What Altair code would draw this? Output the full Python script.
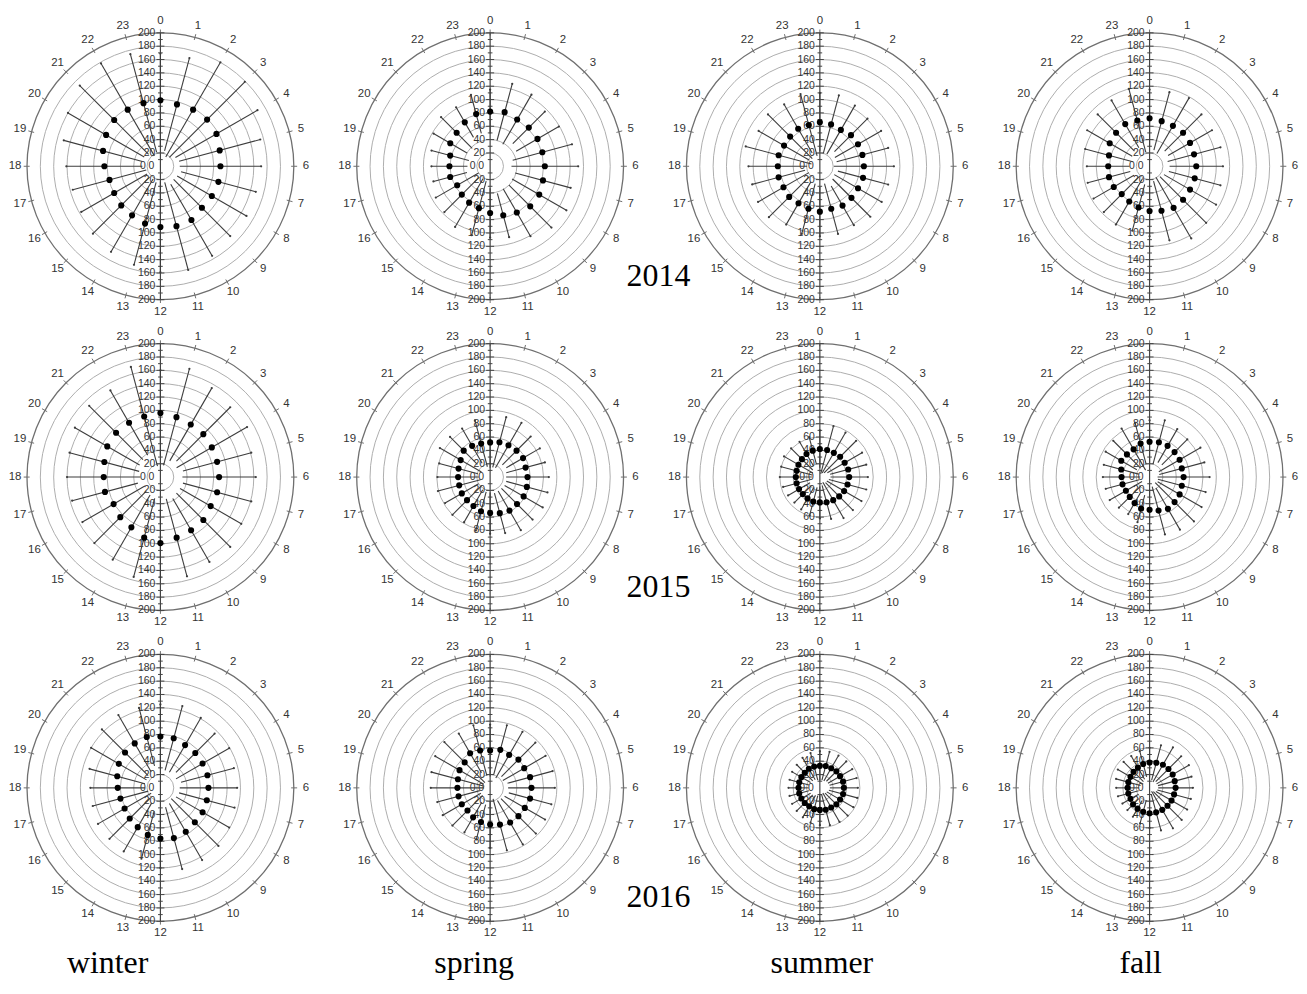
import altair as alt
import pandas as pd

# ---------------- data ----------------
years = ["2014", "2015", "2016"]
seasons = ["winter", "spring", "summer", "fall"]
hours = list(range(24))
ring_values = [20, 40, 60, 80, 100, 120, 140, 160, 180]
outer_value = [200]
axis_major = [20, 40, 60, 80, 100, 120, 140, 160, 180, 200]
axis_minor = [10, 30, 50, 70, 90, 110, 130, 150, 170, 190]

mean_2014_winter = [99, 96, 98, 99, 97, 92, 90, 90, 89, 88, 93, 93, 91, 89, 85, 83, 80, 79, 84, 89, 94, 98, 98, 98]
sd_2014_winter = [70, 72, 82, 80, 71, 63, 61, 58, 60, 60, 62, 68, 68, 64, 63, 60, 57, 57, 57, 61, 66, 73, 80, 76]
mean_2014_spring = [82, 84, 81, 82, 82, 81, 82, 82, 85, 85, 80, 76, 70, 65, 63, 60, 57, 62, 61, 62, 69, 71, 76, 81]
sd_2014_spring = [33, 44, 43, 34, 37, 46, 50, 43, 47, 45, 41, 34, 37, 42, 42, 37, 37, 26, 27, 29, 29, 33, 26, 30]
mean_2014_summer = [66, 65, 63, 66, 66, 66, 66, 67, 66, 67, 68, 66, 68, 66, 64, 65, 63, 64, 63, 64, 62, 63, 65, 64]
sd_2014_summer = [44, 45, 42, 35, 40, 40, 45, 39, 41, 40, 34, 39, 37, 39, 37, 43, 44, 41, 44, 51, 44, 47, 42, 48]
mean_2014_fall = [72, 70, 70, 71, 70, 69, 70, 70, 70, 71, 72, 69, 67, 64, 61, 59, 62, 63, 62, 63, 69, 71, 73, 71]
sd_2014_fall = [43, 45, 48, 39, 38, 41, 40, 40, 45, 49, 53, 46, 38, 36, 40, 38, 35, 33, 32, 37, 39, 39, 41, 49]

mean_2015_winter = [96, 93, 91, 91, 89, 88, 88, 88, 87, 91, 92, 94, 99, 94, 87, 85, 81, 86, 85, 87, 92, 94, 94, 94]
sd_2015_winter = [64, 75, 63, 57, 61, 53, 55, 53, 53, 57, 55, 60, 51, 61, 56, 55, 54, 51, 55, 54, 56, 57, 56, 77]
mean_2015_spring = [52, 54, 55, 56, 57, 55, 56, 57, 58, 57, 58, 56, 54, 53, 50, 49, 49, 48, 48, 49, 51, 56, 54, 52]
sd_2015_spring = [38, 39, 39, 30, 29, 30, 32, 32, 33, 33, 34, 31, 31, 30, 28, 31, 29, 33, 31, 30, 36, 29, 30, 36]
mean_2015_summer = [42, 42, 42, 43, 43, 44, 44, 43, 42, 41, 40, 39, 38, 38, 37, 36, 36, 36, 36, 36, 37, 38, 40, 41]
sd_2015_summer = [28, 37, 35, 34, 30, 28, 28, 29, 30, 29, 31, 26, 24, 22, 19, 18, 19, 21, 24, 24, 25, 23, 21, 21]
mean_2015_fall = [53, 54, 54, 53, 52, 50, 51, 50, 52, 53, 55, 52, 49, 49, 45, 42, 41, 42, 42, 44, 49, 48, 48, 52]
sd_2015_fall = [32, 34, 29, 27, 36, 35, 39, 37, 38, 41, 36, 37, 31, 21, 19, 23, 28, 26, 28, 27, 27, 29, 36, 32]

mean_2016_winter = [77, 77, 74, 74, 73, 73, 72, 72, 73, 73, 76, 78, 76, 73, 68, 65, 62, 62, 64, 67, 72, 75, 77, 79]
sd_2016_winter = [48, 50, 47, 41, 46, 41, 43, 43, 46, 50, 49, 48, 44, 37, 42, 43, 46, 43, 41, 43, 48, 49, 49, 45]
mean_2016_spring = [56, 59, 57, 60, 59, 62, 62, 62, 60, 60, 60, 57, 55, 53, 51, 48, 49, 49, 49, 50, 53, 54, 60, 58]
sd_2016_spring = [39, 38, 40, 36, 37, 35, 35, 33, 35, 37, 38, 40, 35, 27, 26, 32, 33, 33, 40, 41, 42, 43, 34, 39]
mean_2016_summer = [33, 34, 34, 35, 35, 36, 36, 36, 35, 35, 34, 34, 33, 33, 32, 32, 32, 32, 32, 32, 32, 32, 33, 33]
sd_2016_summer = [22, 22, 22, 21, 21, 21, 21, 22, 23, 24, 25, 24, 23, 21, 19, 17, 16, 15, 15, 15, 16, 17, 19, 21]
mean_2016_fall = [38, 39, 40, 40, 40, 39, 39, 38, 38, 38, 38, 38, 38, 37, 36, 35, 33, 33, 33, 33, 33, 34, 35, 37]
sd_2016_fall = [22, 27, 30, 27, 28, 26, 26, 26, 27, 30, 32, 28, 22, 18, 14, 12, 14, 16, 17, 19, 22, 21, 20, 20]

series = {
    ("2014", "winter"): (mean_2014_winter, sd_2014_winter),
    ("2014", "spring"): (mean_2014_spring, sd_2014_spring),
    ("2014", "summer"): (mean_2014_summer, sd_2014_summer),
    ("2014", "fall"): (mean_2014_fall, sd_2014_fall),
    ("2015", "winter"): (mean_2015_winter, sd_2015_winter),
    ("2015", "spring"): (mean_2015_spring, sd_2015_spring),
    ("2015", "summer"): (mean_2015_summer, sd_2015_summer),
    ("2015", "fall"): (mean_2015_fall, sd_2015_fall),
    ("2016", "winter"): (mean_2016_winter, sd_2016_winter),
    ("2016", "spring"): (mean_2016_spring, sd_2016_spring),
    ("2016", "summer"): (mean_2016_summer, sd_2016_summer),
    ("2016", "fall"): (mean_2016_fall, sd_2016_fall),
}

# ---------------- layout / style ----------------
P = 300          # panel plot size (px)
D = 224          # data half-extent shown in each panel
HOUR_R = 218     # radius of hour labels (data units)
SANS = "Liberation Sans"
SERIF = "Liberation Serif"
TXT = "#333333"
season_dx = {"winter": -53, "spring": -16, "summer": 2, "fall": -9}

xs = alt.Scale(domain=[-D, D], nice=False, zero=False)
ys = alt.Scale(domain=[-D, D], nice=False, zero=False)


def X(f):
    return alt.X(f, type="quantitative", scale=xs, axis=None)


def Y(f):
    return alt.Y(f, type="quantitative", scale=ys, axis=None)


def ring_layer(values, color, width):
    # circle of data radius r drawn as an open symbol centred on the origin
    return alt.Chart(pd.DataFrame({"r": values})).transform_calculate(
        z="0", s=f"pow(datum.r * {P} / {D}, 2)"
    ).mark_point(shape="circle", filled=False, color=color, strokeWidth=width, opacity=1).encode(
        x=X("z"), y=Y("z"), size=alt.Size("s:Q", scale=None, legend=None)
    )


def panel(year, season, bottom):
    m, s = series[(year, season)]
    df = pd.DataFrame({"hour": hours, "mean": m, "sd": s})

    rings = ring_layer(ring_values, "#aeaeae", 1)
    outer = ring_layer(outer_value, "#6f6f6f", 1.3)

    hour_df = pd.DataFrame({"hour": hours, "label": [str(h) for h in hours]})
    hour_ticks = alt.Chart(hour_df).transform_calculate(
        a="datum.hour * PI / 12",
        x1="196 * sin(datum.a)", y1="196 * cos(datum.a)",
        x2="205 * sin(datum.a)", y2="205 * cos(datum.a)",
    ).mark_rule(color="#6f6f6f", strokeWidth=1).encode(
        x=X("x1"), y=Y("y1"), x2="x2:Q", y2="y2:Q"
    )
    hour_labels = alt.Chart(hour_df).transform_calculate(
        a="datum.hour * PI / 12",
        lx=f"{HOUR_R} * sin(datum.a)", ly=f"{HOUR_R} * cos(datum.a)",
    ).mark_text(font=SANS, fontSize=11.5, color=TXT, align="center", baseline="middle").encode(
        x=X("lx"), y=Y("ly"), text="label:N"
    )

    axis_line = alt.Chart(pd.DataFrame({"v": outer_value})).transform_calculate(
        z="0", vn="-datum.v"
    ).mark_rule(color="#444444", strokeWidth=1.2).encode(x=X("z"), y=Y("v"), y2="vn:Q")

    major_df = pd.DataFrame({"v": axis_major + [-v for v in axis_major]})
    minor_df = pd.DataFrame({"v": axis_minor + [-v for v in axis_minor]})
    major_ticks = alt.Chart(major_df).transform_calculate(a="-6", b="6").mark_rule(
        color="#444444", strokeWidth=1
    ).encode(x=X("a"), x2="b:Q", y=Y("v"))
    minor_ticks = alt.Chart(minor_df).transform_calculate(a="-3.5", b="3.5").mark_rule(
        color="#444444", strokeWidth=1
    ).encode(x=X("a"), x2="b:Q", y=Y("v"))

    lab_df = pd.DataFrame({"v": axis_major + [-v for v in axis_major],
                           "label": [str(v) for v in axis_major] * 2})
    axis_labels = alt.Chart(lab_df).transform_calculate(z="0").mark_text(
        font=SANS, fontSize=10.5, color=TXT, align="right", baseline="middle", dx=-5
    ).encode(x=X("z"), y=Y("v"), text="label:N")
    zero_label = alt.Chart(pd.DataFrame({"label": ["0 0"]})).transform_calculate(z="0").mark_text(
        font=SANS, fontSize=10.5, color=TXT, align="right", baseline="middle", dx=-6
    ).encode(x=X("z"), y=Y("z"), text="label:N")

    base = alt.Chart(df).transform_calculate(
        a="datum.hour * PI / 12",
        lo="max(datum.mean - datum.sd, 0)",
        hi="datum.mean + datum.sd",
        px="datum.mean * sin(datum.a)", py="datum.mean * cos(datum.a)",
        lx="datum.lo * sin(datum.a)", ly="datum.lo * cos(datum.a)",
        hx="datum.hi * sin(datum.a)", hy="datum.hi * cos(datum.a)",
    )
    bars = base.mark_rule(color="#3c3c3c", strokeWidth=1.1).encode(
        x=X("lx"), y=Y("ly"), x2="hx:Q", y2="hy:Q"
    )
    caps = base.mark_circle(color="#3c3c3c", size=5, opacity=1).encode(x=X("hx"), y=Y("hy"))
    dots = base.mark_circle(color="#000000", size=38, opacity=1).encode(x=X("px"), y=Y("py"))

    layers = [rings, outer, hour_ticks, hour_labels, axis_line, minor_ticks, major_ticks,
              axis_labels, zero_label, bars, caps, dots]
    if season == "spring":
        year_text = alt.Chart(pd.DataFrame({"label": [year]})).mark_text(
            font=SERIF, fontSize=32, color="#000000", align="center", baseline="middle"
        ).encode(x=alt.value(319), y=alt.value(260), text="label:N")
        layers.append(year_text)
    if bottom:
        season_text = alt.Chart(pd.DataFrame({"label": [season]})).mark_text(
            font=SERIF, fontSize=32, color="#000000", align="center", baseline="middle"
        ).encode(x=alt.value(P / 2 + season_dx[season]), y=alt.value(P / 2 + 176), text="label:N")
        layers.append(season_text)
    return alt.layer(*layers).properties(width=P, height=P)


panels = []
for yi, year in enumerate(years):
    for s in seasons:
        panels.append(panel(year, s, yi == len(years) - 1))

chart = alt.concat(
    *panels, columns=4, spacing={"row": 12, "column": 31}, bounds="flush"
).properties(
    padding={"left": 0, "top": 5, "right": 0, "bottom": 0},
    background="white",
).configure_view(stroke=None)

chart.save("out.html", embed_options={"renderer": "svg", "actions": False})
